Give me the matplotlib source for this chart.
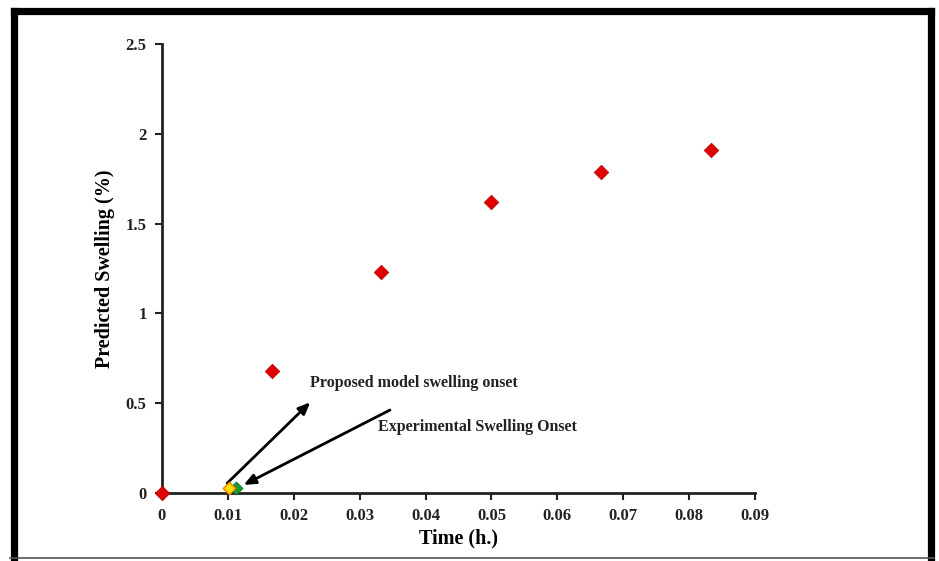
import matplotlib
matplotlib.use("Agg")
import matplotlib.pyplot as plt
from matplotlib.lines import Line2D

# Data
time_h = [0.0, 0.0167, 0.0333, 0.05, 0.0667, 0.0833]
swelling = [0.0, 0.68, 1.23, 1.62, 1.79, 1.91]
model_onset = (0.0101, 0.03)
exp_onset = (0.0112, 0.03)
x_ticks = [0, 0.01, 0.02, 0.03, 0.04, 0.05, 0.06, 0.07, 0.08, 0.09]
x_ticklabels = ["0", "0.01", "0.02", "0.03", "0.04", "0.05", "0.06", "0.07", "0.08", "0.09"]
y_ticks = [0, 0.5, 1, 1.5, 2, 2.5]
y_ticklabels = ["0", "0.5", "1", "1.5", "2", "2.5"]

plt.rcParams['font.family'] = ['Liberation Serif', 'DejaVu Serif']
plt.rcParams['font.weight'] = 'bold'

fig = plt.figure(figsize=(9.39, 5.61), dpi=100)
ax = fig.add_axes([162/939, 68/561, (755-162)/939, (493-44)/561])

ax.scatter(time_h, swelling, marker='D', s=55, color='#e00000', edgecolor='#b00000',
           linewidth=0.5, zorder=5, clip_on=False)
ax.scatter([exp_onset[0]], [exp_onset[1]], marker='D', s=45, color='#1a9a30',
           edgecolor='#0d6a20', linewidth=0.5, zorder=5, clip_on=False)
ax.scatter([model_onset[0]], [model_onset[1]], marker='D', s=40, color='#ffe000',
           edgecolor='#f08000', linewidth=1.0, zorder=6, clip_on=False)

ax.set_xlim(0, 0.09)
ax.set_ylim(0, 2.5)
ax.set_xticks(x_ticks)
ax.set_xticklabels(x_ticklabels)
ax.set_yticks(y_ticks)
ax.set_yticklabels(y_ticklabels)

for s in ['top', 'right']:
    ax.spines[s].set_visible(False)
for s in ['left', 'bottom']:
    ax.spines[s].set_linewidth(2)
    ax.spines[s].set_color('#222222')
ax.tick_params(direction='out', length=5, width=1.5, labelsize=12, colors='#222222',
               pad=6)

ax.set_xlabel('Time (h.)', fontsize=14.5, fontweight='bold', labelpad=3)
ax.set_ylabel('Predicted Swelling (%)', fontsize=14.5, fontweight='bold', labelpad=8)

ax.annotate('', xy=(0.0225, 0.505), xytext=(0.0099, 0.055),
            arrowprops=dict(arrowstyle='-|>,head_length=0.7,head_width=0.3', color='black',
                            lw=2, shrinkA=0, shrinkB=0))
ax.annotate('', xy=(0.0124, 0.045), xytext=(0.0346, 0.462),
            arrowprops=dict(arrowstyle='-|>,head_length=0.7,head_width=0.3', color='black',
                            lw=2, shrinkA=0, shrinkB=0))
ax.text(0.0225, 0.61, 'Proposed model swelling onset', fontsize=11.5, fontweight='bold',
        va='center', ha='left', color='#222222')
ax.text(0.0328, 0.37, 'Experimental Swelling Onset', fontsize=11.5, fontweight='bold',
        va='center', ha='left', color='#222222')

# Frame around the figure: thick left, top, right; thin bottom
W, H = 939.0, 561.0
def fl(x0, y0, x1, y1, lw, c):
    fig.add_artist(Line2D([x0/W, x1/W], [1 - y0/H, 1 - y1/H], transform=fig.transFigure,
                          color=c, linewidth=lw, solid_capstyle='projecting'))
fl(13.5, 10.5, 930.5, 10.5, 5.2, 'black')
fl(13.5, 10.5, 13.5, 558, 5.2, 'black')
fl(930.5, 10.5, 930.5, 558, 5.2, 'black')
fl(10, 558, 934, 558, 1.2, '#555555')

fig.savefig('out.png', dpi=100)
